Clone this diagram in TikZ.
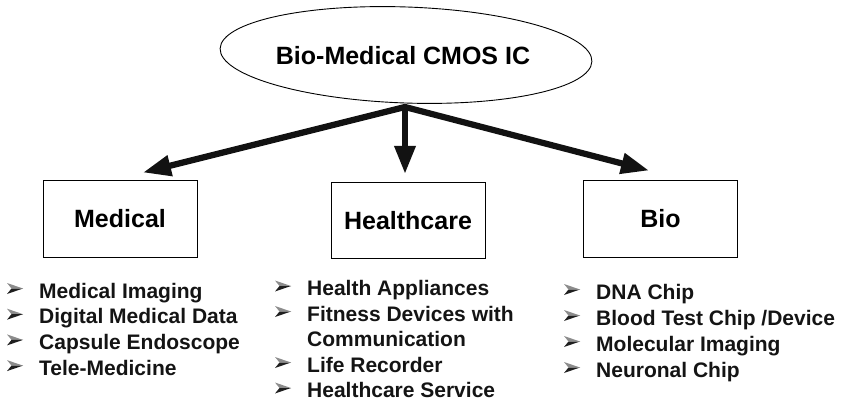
\documentclass[tikz,border=0pt]{standalone}
\usepackage{fontspec}
\setmainfont{Liberation Sans}
\usetikzlibrary{arrows.meta,shapes.geometric}

\tikzset{
  headbox/.style={draw, line width=1pt, minimum width=154pt, minimum height=76pt,
    inner sep=0pt, font=\bfseries\fontsize{25}{30}\selectfont},
  branch/.style={line width=6.2pt, color=black!93, line join=miter},
  tip/.style={-{Triangle[length=28pt,width=20pt]}},
  item/.style={anchor=base west, inner sep=0pt, font=\bfseries\fontsize{21}{25}\selectfont, text=black!92},
  % 3-D arrowhead bullet: light upper facet, dark lower facet
  arrowbullet/.pic={
    \fill[black!45] (0,-5.5) -- (16,0) -- (4.5,0) -- cycle;
    \fill[black!88] (4.5,0) -- (16,0) -- (0,5.5) -- cycle;
  },
}
% bullet placed to the left of a list line
\newcommand{\listbullet}[1]{\pic at ([shift={(-32,-9.5)}]#1.base west) {arrowbullet};}

\begin{document}
\begin{tikzpicture}[x=1pt, y=-1pt]
  \useasboundingbox (0,0) rectangle (842,403);

  % top ellipse and its title
  \node[ellipse, draw, line width=0.9pt, minimum width=372pt, minimum height=96pt,
        inner sep=0pt, rotate=-2] (top) at (406,55) {};
  \node[font=\bfseries\fontsize{25}{30}\selectfont] (title) at (403,56) {Bio-Medical CMOS IC};

  % the three category boxes
  \node[headbox] (med)  at (120,219)   {Medical};
  \node[headbox] (hc)   at (408,220.5) {Healthcare};
  \node[headbox] (bio)  at (660.5,219) {Bio};

  % branching arrows
  \coordinate (j) at (405,107);
  \draw[branch, {Triangle[length=28pt,width=20pt]}-{Triangle[length=28pt,width=20pt]}]
    ([shift={(23,-8)}]med.north) -- (j) -- ([shift={(-11.5,-10)}]bio.north);
  \draw[branch, tip] (j) -- ([shift={(-3,-8)}]hc.north);

  % Medical list
  \node[item] (m1) at (39,298)   {Medical Imaging};
  \node[item] (m2) at (39,323.7) {Digital Medical Data};
  \node[item] (m3) at (39,349.4) {Capsule Endoscope};
  \node[item] (m4) at (39,375.1) {Tele-Medicine};
  \listbullet{m1}\listbullet{m2}\listbullet{m3}\listbullet{m4}

  % Healthcare list
  \node[item] (h1) at (307,295.5) {Health Appliances};
  \node[item] (h2) at (307,321)   {Fitness Devices with};
  \node[item] (h3) at (307,346.5) {Communication};
  \node[item] (h4) at (307,372)   {Life Recorder};
  \node[item] (h5) at (307,397.5) {Healthcare Service};
  \listbullet{h1}\listbullet{h2}\listbullet{h4}\listbullet{h5}

  % Bio list
  \node[item] (b1) at (596,299) {DNA Chip};
  \node[item] (b2) at (596,325) {Blood Test Chip /Device};
  \node[item] (b3) at (596,351) {Molecular Imaging};
  \node[item] (b4) at (596,377) {Neuronal Chip};
  \listbullet{b1}\listbullet{b2}\listbullet{b3}\listbullet{b4}
\end{tikzpicture}
\end{document}
